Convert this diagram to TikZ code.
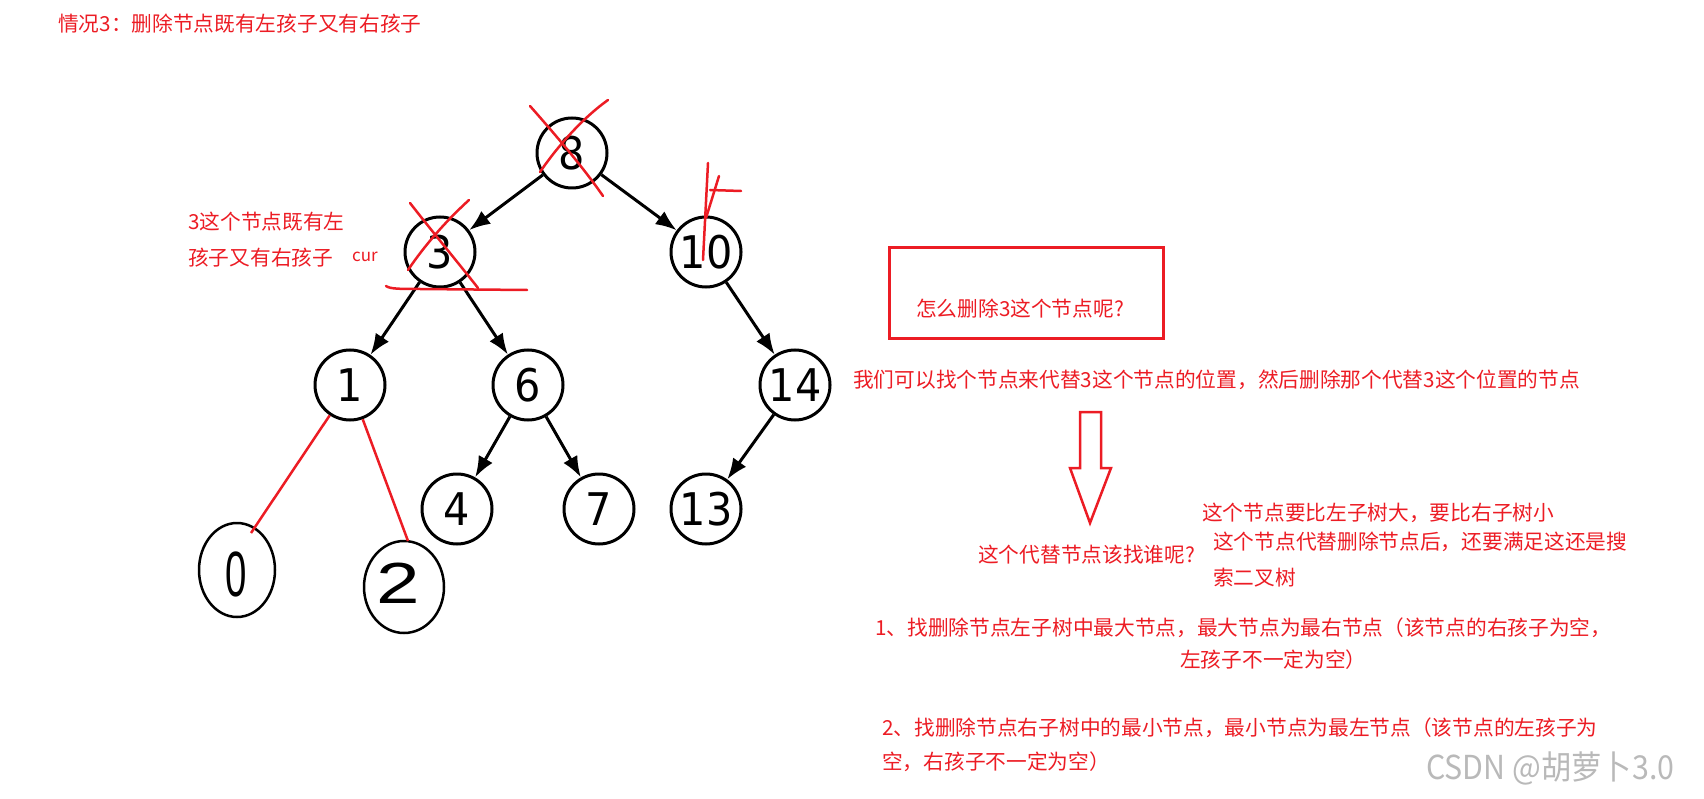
\documentclass[tikz,border=0pt]{standalone}
\usepackage{fontspec}
\setmainfont{Liberation Sans}
\newfontfamily\cjk{Noto Sans CJK SC}
\newfontfamily\djv{DejaVu Sans}
\usetikzlibrary{arrows.meta,shapes.geometric}
\definecolor{mred}{RGB}{236,28,36}
\definecolor{wmgray}{RGB}{185,185,185}
\newcommand\digs[1]{\scalebox{0.92}[1]{#1}}
\begin{document}
\begin{tikzpicture}[x=1pt,y=-1pt,
  tnode/.style={circle,draw,line width=3pt,minimum size=70pt,inner sep=0pt,font=\djv\fontsize{45}{45}\selectfont},
  hnode/.style={ellipse,draw,line width=2.5pt,inner sep=0pt},
  edge/.style={line width=3pt,-{Latex[length=21pt,width=16pt]}},
  redline/.style={mred,line width=2.5pt,line cap=round},
  lbl/.style={mred,anchor=west,inner sep=0pt,font=\cjk\fontsize{20.7}{24}\selectfont},
]
\useasboundingbox (0,0) rectangle (1704,799);

% tree nodes
\node[tnode] (n8) at (572,153) {\digs{8}};
\node[tnode] (n3) at (440,252) {\digs{3}};
\node[tnode] (n10) at (706,252) {\digs{10}};
\node[tnode] (n1) at (350,385) {\digs{1}};
\node[tnode] (n6) at (528,385) {\digs{6}};
\node[tnode] (n14) at (795,385) {\digs{14}};
\node[tnode] (n4) at (457,509) {\digs{4}};
\node[tnode] (n7) at (599,509) {\digs{7}};
\node[tnode] (n13) at (706,509) {\digs{13}};

% hand drawn nodes
\node[hnode,minimum width=76pt,minimum height=94pt] (h0) at (237,570) {};
\node[hnode,minimum width=80pt,minimum height=92pt] (h2) at (404,587) {};
\node[font=\fontsize{64}{64}\selectfont,inner sep=0pt] (t0) at (236,574) {\scalebox{0.6}[1]{0}};
\node[font=\fontsize{58}{58}\selectfont,inner sep=0pt] (t2) at (398,583) {\scalebox{1.35}[1]{2}};

% black edges
\draw[edge] (n8) -- (n3);
\draw[edge] (n8) -- (n10);
\draw[edge] (n3) -- (n1);
\draw[edge] (n3) -- (n6);
\draw[edge] (n10) -- (n14);
\draw[edge] (n6) -- (n4);
\draw[edge] (n6) -- (n7);
\draw[edge] (n14) -- (n13);

% red connectors to hand drawn nodes
\coordinate (c0) at (251,533);
\coordinate (c2) at (408,541);
\draw[redline,line cap=butt] (n1) -- (c0);
\draw[redline,line cap=butt] (n1) -- (c2);

% red strike marks
\draw[redline] (530,106) .. controls (560,140) and (585,170) .. (603,196);
\draw[redline] (608,100) .. controls (580,120) and (555,150) .. (540,172);
\draw[redline] (410,203) .. controls (435,235) and (460,265) .. (478,288);
\draw[redline] (469,200) .. controls (445,222) and (425,245) .. (408,270);
\draw[redline] (386,286) .. controls (390,289) and (400,289) .. (420,289) -- (527,290);
\draw[redline] (708,163) -- (703,260);
\draw[redline] (719,176) -- (706,218);
\draw[redline] (710,190) -- (741,191);

% texts
\node[lbl] (title) at (58,24) {情况3：删除节点既有左孩子又有右孩子};
\node[lbl] (la) at (188,222) {3这个节点既有左};
\node[lbl] (lb) at (188,258) {孩子又有右孩子};
\node[lbl,font=\cjk\fontsize{17}{18}\selectfont] (cur) at (352,257) {cur};

\node[draw=mred,line width=3pt,minimum width=274pt,minimum height=90pt,inner sep=0pt] (box) at (1026,293) {};
\node[lbl] (q) at (916,309) {怎么删除3这个节点呢?};
\node[lbl] (l1) at (853,380) {我们可以找个节点来代替3这个节点的位置，然后删除那个代替3这个位置的节点};

\draw[mred,line width=2.5pt,line join=miter] (1080,412) -- (1101,412) -- (1101,468) -- (1111,468) -- (1090,523) -- (1070,468) -- (1080,468) -- cycle;

\node[lbl] (l2) at (978,555) {这个代替节点该找谁呢?};
\node[lbl] (l3) at (1202,513) {这个节点要比左子树大，要比右子树小};
\node[lbl] (l4) at (1213,542) {这个节点代替删除节点后，还要满足这还是搜};
\node[lbl] (l5) at (1213,578) {索二叉树};
\node[lbl] (l6) at (875,628) {1、找删除节点左子树中最大节点，最大节点为最右节点（该节点的右孩子为空，};
\node[lbl] (l7) at (1180,660) {左孩子不一定为空）};
\node[lbl] (l8) at (882,728) {2、找删除节点右子树中的最小节点，最小节点为最左节点（该节点的左孩子为};
\node[lbl] (l9) at (882,762) {空，右孩子不一定为空）};
\node[anchor=west,inner sep=0pt,text=wmgray,font=\cjk\fontsize{33}{36}\selectfont] (wm) at (1426,768) {\scalebox{0.92}[1]{CSDN @胡萝卜3.0}};
\end{tikzpicture}
\end{document}
